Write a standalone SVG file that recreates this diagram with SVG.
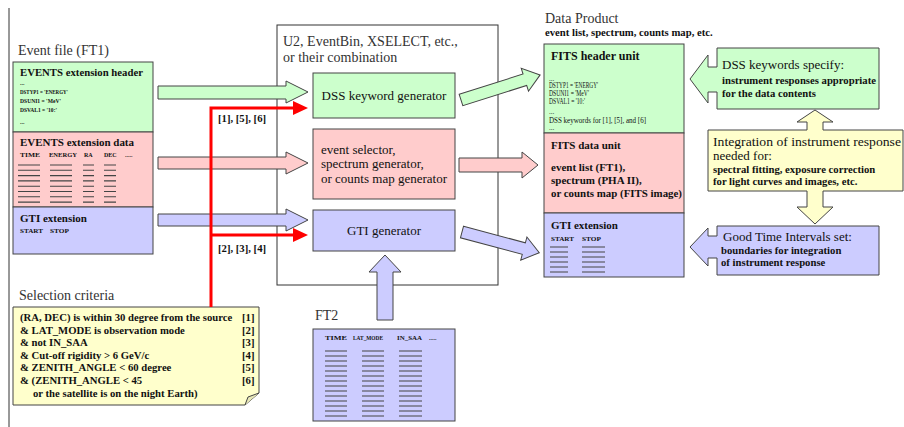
<svg xmlns="http://www.w3.org/2000/svg" width="904" height="427" viewBox="0 0 904 427" font-family="'Liberation Serif', 'DejaVu Serif', serif">
<style>
text{font-family:'Liberation Serif','Times New Roman','DejaVu Serif',serif;fill:#111}
.t14{font-size:14px;fill:#333}
.t13{font-size:13px}
.b12{font-size:12px;font-weight:bold}
.b11{font-size:11px;font-weight:bold}
.b10{font-size:10.7px;font-weight:bold}
.s{font-size:6px;font-weight:bold}
.sr{font-size:7.2px}
.g{fill:#ccffcc;stroke:#444;stroke-width:1}
.p{fill:#ffcccc;stroke:#444;stroke-width:1}
.b{fill:#ccccff;stroke:#444;stroke-width:1}
.y{fill:#ffffcc;stroke:#444;stroke-width:1}
.frame{fill:none;stroke:#333;stroke-width:1}
.ln{stroke:#444;stroke-width:1.1}
.red{stroke:#ff0000;stroke-width:3;fill:none}
.rh{fill:#ff0000}
</style>

<line class="frame" x1="9" y1="8" x2="9" y2="427"/>

<g id="event-file">
<text class="t14" x="18" y="55">Event file (FT1)</text>
<rect class="g" x="13" y="62" width="140" height="70"/>
<text class="b11" x="20" y="76" textLength="123" lengthAdjust="spacingAndGlyphs">EVENTS extension header</text>
<text class="s" x="20" y="85">...</text>
<text class="s" x="20" y="93.5" textLength="48" lengthAdjust="spacingAndGlyphs">DSTYP1 = 'ENERGY'</text>
<text class="s" x="20" y="103" textLength="41" lengthAdjust="spacingAndGlyphs">DSUNI1 = 'MeV'</text>
<text class="s" x="20" y="112" textLength="37" lengthAdjust="spacingAndGlyphs">DSVAL1 = '10:'</text>
<text class="s" x="20" y="124">...</text>
<rect class="p" x="13" y="132" width="140" height="75"/>
<text class="b11" x="20" y="146" textLength="114" lengthAdjust="spacingAndGlyphs">EVENTS extension data</text>
<text class="s" x="20" y="156.5" textLength="20" lengthAdjust="spacingAndGlyphs">TIME</text>
<text class="s" x="49" y="156.5" textLength="28" lengthAdjust="spacingAndGlyphs">ENERGY</text>
<text class="s" x="84" y="156.5">RA</text>
<text class="s" x="104" y="156.5">DEC</text>
<text class="s" x="125" y="156.5">.....</text>
<g class="ln">
<path d="M18,165H40M50,165H72M83,165H94M104,165H116 M18,170.3H40M50,170.3H72M83,170.3H94M104,170.3H116 M18,175.6H40M50,175.6H72M83,175.6H94M104,175.6H116 M18,180.9H40M50,180.9H72M83,180.9H94M104,180.9H116 M18,186.2H40M50,186.2H72M83,186.2H94M104,186.2H116 M18,191.5H40M50,191.5H72M83,191.5H94M104,191.5H116 M18,196.8H40M50,196.8H72M83,196.8H94M104,196.8H116 M18,202.1H40M50,202.1H72M83,202.1H94M104,202.1H116"/>
</g>
<rect class="b" x="13" y="207" width="140" height="47"/>
<text class="b11" x="20" y="222">GTI extension</text>
<text class="s" x="20" y="232.5" textLength="23" lengthAdjust="spacingAndGlyphs">START</text>
<text class="s" x="50" y="232.5" textLength="19" lengthAdjust="spacingAndGlyphs">STOP</text>
</g>

<g id="selection-criteria">
<text class="t14" x="19" y="300">Selection criteria</text>
<path class="y" d="M13,307H259V393L245,405H13Z"/>
<path d="M245,405L248,397L259,393" fill="#e8e8b8" stroke="#444" stroke-width="1"/>
<text class="b10" x="20" y="320.5">(RA, DEC) is within 30 degree from the source</text>
<text class="b10" x="20" y="333.5">&amp; LAT_MODE is observation mode</text>
<text class="b10" x="20" y="346">&amp; not IN_SAA</text>
<text class="b10" x="20" y="358.5">&amp; Cut-off rigidity &gt; 6 GeV/c</text>
<text class="b10" x="20" y="371">&amp; ZENITH_ANGLE &lt; 60 degree</text>
<text class="b10" x="20" y="384">&amp; (ZENITH_ANGLE &lt; 45</text>
<text class="b10" x="33" y="396.5">or the satellite is on the night Earth)</text>
<text class="b10" x="242" y="320.5">[1]</text>
<text class="b10" x="242" y="333.5">[2]</text>
<text class="b10" x="242" y="346">[3]</text>
<text class="b10" x="242" y="358.5">[4]</text>
<text class="b10" x="242" y="371">[5]</text>
<text class="b10" x="242" y="384">[6]</text>
</g>

<g id="tools">
<rect class="frame" x="277" y="25" width="221" height="260"/>
<text class="t14" x="283" y="46">U2, EventBin, XSELECT, etc.,</text>
<text class="t14" x="283" y="62">or their combination</text>
</g>
<g id="dss-generator">
<rect class="g" x="313" y="73" width="142" height="45"/>
<text class="t13" x="384" y="100" text-anchor="middle">DSS keyword generator</text>
</g>
<g id="event-selector">
<rect class="p" x="313" y="129" width="142" height="70"/>
<text class="t13" x="321" y="154">event selector,</text>
<text class="t13" x="321" y="168">spectrum generator,</text>
<text class="t13" x="321" y="183">or counts map generator</text>
</g>
<g id="gti-generator">
<rect class="b" x="313" y="210" width="142" height="41"/>
<text class="t13" x="384" y="235" text-anchor="middle">GTI generator</text>
</g>

<g id="ft2">
<text class="t14" x="315" y="320">FT2</text>
<rect class="b" x="313" y="329" width="142" height="92"/>
<text class="s" x="325" y="340" textLength="22" lengthAdjust="spacingAndGlyphs">TIME</text>
<text class="s" x="353" y="340" textLength="30" lengthAdjust="spacingAndGlyphs">LAT_MODE</text>
<text class="s" x="397" y="340" textLength="25" lengthAdjust="spacingAndGlyphs">IN_SAA</text>
<text class="s" x="429" y="340">.....</text>
<path class="ln" d="M325,351H347M362,351H384M399,351H422 M325,356H347M362,356H384M399,356H422 M325,361H347M362,361H384M399,361H422 M325,366H347M362,366H384M399,366H422 M325,371H347M362,371H384M399,371H422 M325,376H347M362,376H384M399,376H422 M325,381H347M362,381H384M399,381H422 M325,386H347M362,386H384M399,386H422 M325,391H347M362,391H384M399,391H422 M325,396H347M362,396H384M399,396H422 M325,401H347M362,401H384M399,401H422 M325,406H347M362,406H384M399,406H422 M325,411H347M362,411H384M399,411H422 M325,416H347M362,416H384M399,416H422"/>
</g>

<g id="data-product">
<text class="t14" x="545" y="23">Data Product</text>
<text class="b10" x="545" y="36">event list, spectrum, counts map, etc.</text>
<rect class="g" x="544" y="44" width="140" height="89"/>
<text class="b12" x="551" y="60">FITS header unit</text>
<text class="sr" x="549" y="81">...</text>
<text class="sr" x="549" y="87.5" textLength="49" lengthAdjust="spacingAndGlyphs">DSTYP1 = 'ENERGY'</text>
<text class="sr" x="549" y="95.5" textLength="40" lengthAdjust="spacingAndGlyphs">DSUNI1 = 'MeV'</text>
<text class="sr" x="549" y="103.5" textLength="36" lengthAdjust="spacingAndGlyphs">DSVAL1 = '10:'</text>
<text class="sr" x="549" y="114">...</text>
<text class="sr" x="549" y="123" textLength="97" lengthAdjust="spacingAndGlyphs">DSS keywords for [1], [5], and [6]</text>
<text class="sr" x="549" y="130">...</text>
<rect class="p" x="544" y="133" width="140" height="80"/>
<text class="b11" x="551" y="149">FITS data unit</text>
<text class="b10" x="551" y="171" style="font-size:11px">event list (FT1),</text>
<text class="b10" x="551" y="184" style="font-size:11px">spectrum (PHA II),</text>
<text class="b10" x="551" y="197" style="font-size:11px" textLength="131" lengthAdjust="spacingAndGlyphs">or counts map (FITS image)</text>
<rect class="b" x="544" y="213" width="140" height="64"/>
<text class="b11" x="551" y="229">GTI extension</text>
<text class="s" x="551" y="241" textLength="23" lengthAdjust="spacingAndGlyphs">START</text>
<text class="s" x="582" y="241" textLength="19" lengthAdjust="spacingAndGlyphs">STOP</text>
<path class="ln" d="M550,247H568M582,247H605 M550,252H568M582,252H605 M550,257H568M582,257H605 M550,262H568M582,262H605 M550,267H568M582,267H605 M550,272H568M582,272H605"/>
</g>

<g id="dss-keywords">
<path class="g" d="M717,48H879V109H717V92H708V103L690,79L708,55V67H717Z"/>
<text class="t13" x="722" y="69">DSS keywords specify:</text>
<text class="b10" x="722" y="84">instrument responses appropriate</text>
<text class="b10" x="722" y="97">for the data contents</text>
</g>
<g id="integration">
<path class="y" d="M708,130H807V122H797L815,110L833,122H823V130H903V191H823V207H833L815,224L797,207H807V191H708Z"/>
<text class="t13" x="713" y="146" textLength="188" lengthAdjust="spacingAndGlyphs">Integration of instrument response</text>
<text class="t13" x="713" y="160">needed for:</text>
<text class="b10" x="713" y="173">spectral fitting, exposure correction</text>
<text class="b10" x="713" y="185">for light curves and images, etc.</text>
</g>
<g id="good-time">
<path class="b" d="M717,226H879V275H717V258H708V266L690,247L708,228V236H717Z"/>
<text class="t13" x="723" y="241">Good Time Intervals set:</text>
<text class="b10" x="721" y="254">boundaries for integration</text>
<text class="b10" x="721" y="266">of instrument response</text>
</g>

<g id="connectors">
<polygon class="g" points="158,86 286,86 286,81 308,92 286,103 286,99 158,99"/>
<polygon class="p" points="158,157 286,157 286,152 308,163 286,174 286,169 158,169"/>
<polygon class="b" points="158,214 286,214 286,209 308,220 286,231 286,226 158,226"/>
<path class="red" d="M211,307V108H294"/>
<polygon class="rh" points="293,101 308,108 293,115"/>
<path class="red" d="M211,235H294"/>
<polygon class="rh" points="293,228 308,235 293,242"/>
<text class="b10" x="218" y="122">[1], [5], [6]</text>
<text class="b10" x="218" y="252">[2], [3], [4]</text>
<polygon class="g" transform="translate(461,100) rotate(-17.6)" points="0,-6 67,-6 67,-12 83,0 67,12 67,6 0,6"/>
<polygon class="p" points="459,158 522,158 522,152 538,165 522,178 522,172 459,172"/>
<polygon class="b" transform="translate(462,232) rotate(15)" points="0,-6 64,-6 64,-12 80,0 64,12 64,6 0,6"/>
<polygon class="b" points="377,320 377,272 369,272 385,255 401,272 393,272 393,320"/>
</g>
</svg>
